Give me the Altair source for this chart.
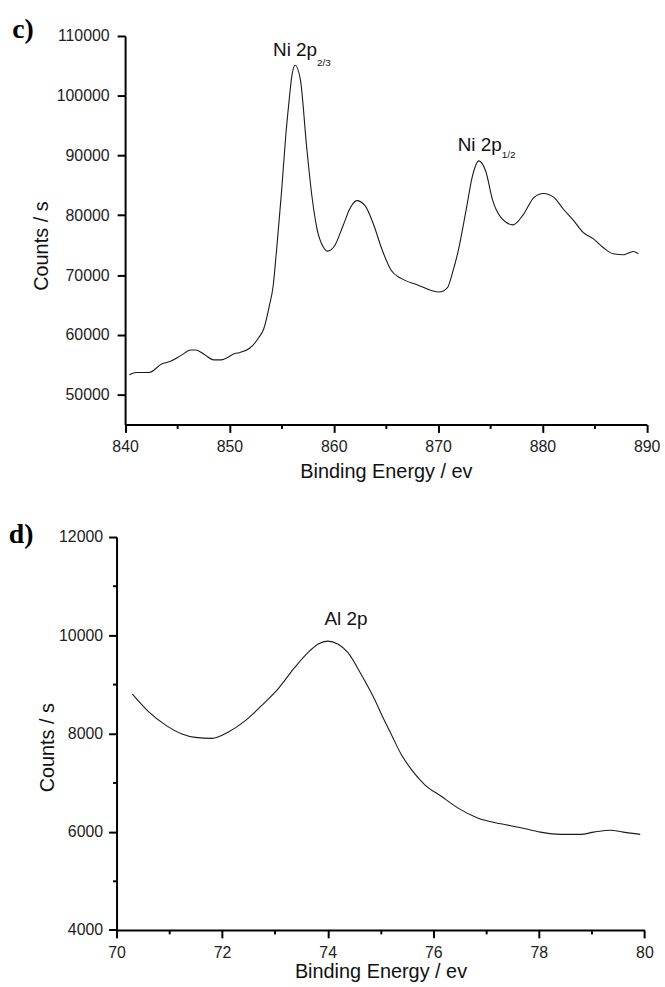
import altair as alt
import pandas as pd

# ---------------- panel c) Ni 2p ----------------
ni_energy = [840.4, 841.1, 842.3, 843.5, 844.4, 845.4, 846.3, 846.8, 847.6, 848.5,
             849.2, 850.6, 850.9, 851.9, 852.8, 853.3, 853.8, 854.2, 854.5, 855.0,
             855.4, 855.7, 856.0, 856.3, 856.8, 857.4, 857.9, 858.4, 859.0, 859.4,
             860.1, 860.9, 861.6, 862.2, 863.0, 863.8, 864.6, 865.5, 866.5, 868.1,
             869.3, 870.1, 870.9, 871.4, 871.9, 872.7, 873.3, 873.9, 874.6, 875.2,
             876.0, 877.2, 878.2, 879.2, 880.1, 881.1, 882.0, 883.0, 883.9, 884.9,
             885.8, 886.8, 887.8, 888.7, 889.2]
ni_counts = [53300, 53700, 53700, 55100, 55600, 56600, 57450, 57450, 56700, 55800,
             55800, 56900, 57000, 57700, 59500, 61050, 64650, 68300, 73800, 84000,
             93300, 98800, 103500, 105100, 102700, 91500, 83300, 77700, 74700, 74000,
             74950, 78300, 81300, 82450, 81600, 78550, 74400, 70800, 69400, 68300,
             67450, 67150, 67900, 70500, 73800, 81000, 86600, 89100, 87200, 82700,
             79700, 78400, 80200, 83000, 83650, 83000, 81050, 79100, 77150, 76050,
             74650, 73550, 73400, 73950, 73550]
ni_x_ticks = list(range(840, 891, 5))
ni_y_ticks = list(range(50000, 110001, 5000))
# main label ends where its subscript starts
ni_main_text = ["Ni 2p", "Ni 2p"]
ni_sub_text = ["2/3", "1/2"]
ni_label_x = [858.4, 876.1]
ni_main_y = [106600, 90800]
ni_sub_y = [104950, 89500]

# ---------------- panel d) Al 2p ----------------
al_energy = [70.30, 70.61, 70.93, 71.24, 71.49, 71.81, 72.12, 72.44, 72.75, 73.06,
             73.38, 73.63, 73.82, 74.00, 74.19, 74.38, 74.63, 74.88, 75.04, 75.21,
             75.40, 75.59, 75.84, 76.15, 76.47, 76.84, 77.28, 77.66, 78.03, 78.41,
             78.79, 79.04, 79.35, 79.60, 79.92]
al_counts = [8800, 8440, 8170, 7990, 7920, 7900, 8030, 8260, 8570, 8910,
             9350, 9650, 9820, 9880, 9820, 9650, 9210, 8710, 8340, 7970,
             7560, 7260, 6955, 6720, 6480, 6280, 6160, 6080, 5990, 5945,
             5945, 5990, 6030, 5990, 5945]
al_x_ticks = list(range(70, 81, 1))
al_y_ticks = list(range(4000, 12001, 1000))
al_main_text = ["Al 2p"]
al_main_x = [73.94]
al_main_y = [10206]

FONT = "Liberation Sans"


def make_axis(values, major, title, is_x, label_pad, title_x=None, title_y=None, offset=None):
    kw = dict(
        values=values,
        format="d",
        labelExpr=f"datum.value % {major} === 0 ? datum.label : ''",
        tickSize={"condition": {"test": f"datum.value % {major} === 0", "value": 8}, "value": 4},
        tickWidth=2,
        domainWidth=2,
        domainColor="black",
        tickColor="black",
        labelPadding=label_pad,
        labelFontSize=16,
        labelFont=FONT,
        labelColor="#222222",
        labelOverlap=False,
        labelFlush=False,
        grid=False,
        title=title,
        titleFont=FONT,
        titleFontSize=20,
        titleFontWeight="normal",
        titleColor="#111111",
        titleBaseline="alphabetic",
    )
    if is_x:
        kw["labelBaseline"] = "alphabetic"
    if title_x is not None:
        kw["titleX"] = title_x
    if title_y is not None:
        kw["titleY"] = title_y
    if offset is not None:
        kw["offset"] = offset
    return alt.Axis(**kw)


# ---------- top panel ----------
W1, H1 = 533.6, 391
SHIFT = 8.6
ni_df = pd.DataFrame({"energy": ni_energy, "counts": ni_counts})
x1 = alt.X("energy:Q",
           scale=alt.Scale(domain=[840, 890], range=[SHIFT, W1], nice=False, zero=False),
           axis=make_axis(ni_x_ticks, 10, "Binding Energy / ev", True, 19.7, title_y=53.7))
y1 = alt.Y("counts:Q",
           scale=alt.Scale(domain=[45000, 110000], nice=False, zero=False),
           axis=make_axis(ni_y_ticks, 10000, "Counts / s", False, 8,
                          title_x=-77.8, title_y=211, offset=-SHIFT))

line1 = alt.Chart(ni_df).mark_line(color="#1a1a1a", strokeWidth=1.1, interpolate="monotone").encode(x=x1, y=y1)

main1 = alt.Chart(pd.DataFrame({"energy": ni_label_x, "counts": ni_main_y, "t": ni_main_text})).mark_text(
    font=FONT, fontSize=19, align="right", baseline="alphabetic", color="#111111"
).encode(x="energy:Q", y="counts:Q", text="t:N")
sub1 = alt.Chart(pd.DataFrame({"energy": ni_label_x, "counts": ni_sub_y, "t": ni_sub_text})).mark_text(
    font=FONT, fontSize=10, align="left", baseline="alphabetic", color="#111111"
).encode(x="energy:Q", y="counts:Q", text="t:N")
tag1 = alt.Chart(pd.DataFrame({"t": ["c)"]})).mark_text(
    font="Liberation Serif", fontSize=28, fontWeight="bold", align="left", baseline="alphabetic", color="black"
).encode(x=alt.value(-105), y=alt.value(2), text="t:N")

top = alt.layer(line1, main1, sub1, tag1).properties(width=W1, height=H1)

# ---------- bottom panel ----------
W2, H2 = 531.3, 395.4
al_df = pd.DataFrame({"energy": al_energy, "counts": al_counts})
x2 = alt.X("energy:Q",
           scale=alt.Scale(domain=[70, 80], nice=False, zero=False),
           axis=make_axis(al_x_ticks, 2, "Binding Energy / ev", True, 19.5, title_y=48))
y2 = alt.Y("counts:Q",
           scale=alt.Scale(domain=[4000, 12000], nice=False, zero=False),
           axis=make_axis(al_y_ticks, 2000, "Counts / s", False, 6,
                          title_x=-63.4, title_y=211.5))

line2 = alt.Chart(al_df).mark_line(color="#1a1a1a", strokeWidth=1.1, interpolate="monotone").encode(x=x2, y=y2)
main2 = alt.Chart(pd.DataFrame({"energy": al_main_x, "counts": al_main_y, "t": al_main_text})).mark_text(
    font=FONT, fontSize=19, align="left", baseline="alphabetic", color="#111111"
).encode(x="energy:Q", y="counts:Q", text="t:N")
tag2 = alt.Chart(pd.DataFrame({"t": ["d)"]})).mark_text(
    font="Liberation Serif", fontSize=28, fontWeight="bold", align="left", baseline="alphabetic", color="black"
).encode(x=alt.value(-108.4), y=alt.value(6), text="t:N")

bottom = alt.layer(line2, main2, tag2).properties(width=W2, height=H2)

chart = alt.vconcat(top, bottom, spacing=113.3, bounds="flush").properties(
    padding={"left": 8.3, "top": 13, "right": 5, "bottom": 5},
    background="white",
).configure_view(stroke=None)

chart.save("out.html", embed_options={"renderer": "svg", "actions": False})
